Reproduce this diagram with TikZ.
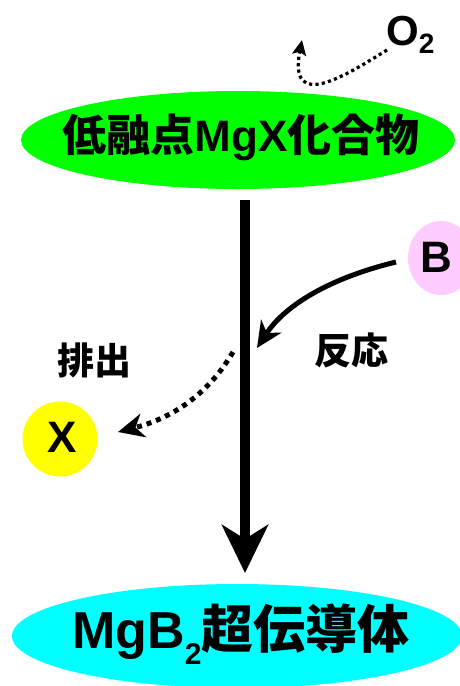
\documentclass[tikz,border=0pt]{standalone}
\usepackage{fontspec}
\setmainfont{Liberation Sans}
\newfontfamily\cjk{Noto Sans CJK JP}
\usetikzlibrary{arrows.meta,shapes.geometric}
\definecolor{grn}{RGB}{0,255,0}
\definecolor{cyn}{RGB}{0,255,255}
\definecolor{pnk}{RGB}{255,204,255}
\definecolor{ylw}{RGB}{255,255,0}
\tikzset{
  blob/.style={ellipse, inner sep=0pt},
  lbl/.style={font=\fontsize{44}{44}\selectfont\bfseries, inner sep=0pt},
  jlbl/.style={font=\fontsize{37}{37}\selectfont\cjk\bfseries, inner sep=0pt},
  dots/.style={line width=3.2pt, dash pattern=on 3.2pt off 3.2pt},
  bigdots/.style={line width=5pt, dash pattern=on 5pt off 5pt},
}
\begin{document}
\begin{tikzpicture}[x=1pt,y=-1pt]
\useasboundingbox (0,0) rectangle (459,686);
% ellipses
\node[blob, fill=grn, minimum width=434pt, minimum height=98pt] (top) at (238,140) {};
\node[font=\fontsize{44}{44}\selectfont\bfseries, inner sep=0pt] (toptxt) at (241,137)
  {{\cjk 低融点}MgX{\cjk 化合物}};
\node[blob, fill=cyn, minimum width=450pt, minimum height=104pt] (bot) at (237,636) {};
\node[font=\fontsize{52}{52}\selectfont\bfseries, inner sep=0pt] (bottxt) at (241,634)
  {MgB\raisebox{-0.3em}{\fontsize{30}{30}\selectfont 2}{\cjk 超伝導体}};
\node[blob, fill=pnk, minimum width=66pt, minimum height=74pt] (B) at (441,258) {};
\node[lbl, anchor=base] (Btxt) at (436,272) {B};
\node[circle, fill=ylw, minimum size=75pt, inner sep=0pt] (X) at (60,439) {};
\node[lbl, anchor=base] (Xtxt) at (62,452) {X};
\node[font=\fontsize{42}{42}\selectfont\bfseries, inner sep=0pt, anchor=base west] (O2) at (386,45)
  {O\raisebox{-8pt}{\fontsize{28}{28}\selectfont 2}};
\node[jlbl] (react) at (351,350) {反応};
\node[jlbl] (out) at (94,360) {排出};
% coordinates
\coordinate (m1) at (245,200);
\coordinate (m2) at (245,573);
\coordinate (b0) at (396,262);
\coordinate (b1) at (257,348);
\coordinate (o0) at (387,50);
\coordinate (o1) at (302,40);
\coordinate (x0) at (233,352);
\coordinate (x1) at (118,432);
% connectors
\draw[line width=10pt, -{Stealth[length=48pt, width=46pt, inset=14pt]}] (m1) -- (m2);
\draw[line width=5pt, -{Stealth[length=26pt, width=24pt, inset=8pt]}] (b0) .. controls (330,278) and (285,305) .. (b1);
\draw[dots, -{Stealth[length=15pt, width=14pt, inset=3pt]}] (o0) .. controls (345,76) and (288,112) .. (o1);
\draw[bigdots, -{Stealth[length=26pt, width=24pt, inset=8pt]}] (x0) .. controls (205,400) and (165,420) .. (x1);
\end{tikzpicture}
\end{document}
